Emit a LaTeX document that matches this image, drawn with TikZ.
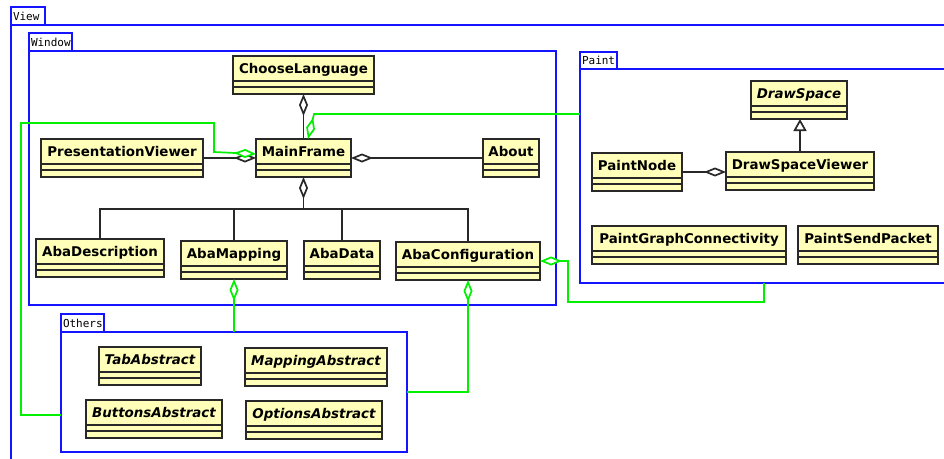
\documentclass[tikz,border=0pt]{standalone}
\usepackage{fontspec}
\setmainfont{DejaVu Sans}
\newfontfamily\pkgfont{DejaVu Sans Mono}
\usetikzlibrary{arrows.meta}
\definecolor{classfill}{RGB}{255,255,185}
\definecolor{classline}{RGB}{40,40,40}
\definecolor{pkgblue}{RGB}{20,20,255}
\definecolor{linkgreen}{RGB}{0,240,0}

\begin{document}
\begin{tikzpicture}[x=1pt,y=-1pt,
  umlclass/.style={draw=classline, fill=classfill, line width=1.8pt, anchor=north west,
    inner xsep=0pt, inner ysep=0pt, outer sep=0pt, minimum height=38pt,
    text height=17pt, text depth=21pt, font=\fontsize{13.4}{16}\selectfont\bfseries},
  abstractclass/.style={umlclass, font=\fontsize{13.4}{16}\selectfont\bfseries\itshape},
  pkg/.style={draw=pkgblue, line width=1.7pt, anchor=north west, inner sep=0pt, outer sep=0pt},
  pkgtab/.style={pkg, anchor=south west, minimum height=18pt, inner xsep=2pt, inner ysep=0pt,
    align=left, font=\pkgfont\fontsize{11}{12}\selectfont},
  agg/.style={draw=classline, line width=1.7pt, -{Diamond[fill=white, length=22pt, width=9pt]}},
  gagg/.style={draw=linkgreen, line width=1.7pt, -{Diamond[fill=white, length=22pt, width=9pt]}},
  assoc/.style={draw=classline, line width=1.7pt},
  inh/.style={draw=classline, line width=1.7pt, -{Triangle[fill=white, length=12pt, width=13pt]}},
]
\useasboundingbox (0,0) rectangle (944,458);
\fill[white] (0,0) rectangle (944,458);

% packages
\node[pkg, minimum width=1000pt, minimum height=500pt] (View) at (11,25) {};
\node[pkgtab, text width=30pt] (ViewTab) at (View.north west) {View};
\node[pkg, minimum width=527pt, minimum height=254pt] (Window) at (29,51) {};
\node[pkgtab, text width=39pt] (WindowTab) at (Window.north west) {Window};
\node[pkg, minimum width=400pt, minimum height=214pt] (Paint) at (580,69) {};
\node[pkgtab, text width=33pt, minimum height=17pt] (PaintTab) at (Paint.north west) {Paint};
\node[pkg, minimum width=346pt, minimum height=120pt] (Others) at (61,332) {};
\node[pkgtab, text width=39pt] (OthersTab) at (Others.north west) {Others};

% Window classes
\node[umlclass, minimum width=141pt] (ChooseLanguage) at (233,56) {ChooseLanguage};
\node[umlclass, minimum width=95pt] (MainFrame) at (256,139) {MainFrame};
\node[umlclass, minimum width=56pt] (About) at (483,139) {About};
\node[umlclass, minimum width=162pt] (PresentationViewer) at (41,139) {PresentationViewer};
\node[umlclass, minimum width=128pt] (AbaDescription) at (36,239) {AbaDescription};
\node[umlclass, minimum width=106pt] (AbaMapping) at (181,241) {AbaMapping};
\node[umlclass, minimum width=76pt] (AbaData) at (304,241) {AbaData};
\node[umlclass, minimum width=144pt] (AbaConfiguration) at (396,242) {AbaConfiguration};

% Paint classes
\node[abstractclass, minimum width=96pt] (DrawSpace) at (751,81) {DrawSpace};
\node[umlclass, minimum width=148pt] (DrawSpaceViewer) at (726,152) {DrawSpaceViewer};
\node[umlclass, minimum width=90pt] (PaintNode) at (592,153) {PaintNode};
\node[umlclass, minimum width=194pt] (PaintGraphConnectivity) at (592,226) {PaintGraphConnectivity};
\node[umlclass, minimum width=140pt] (PaintSendPacket) at (798,226) {PaintSendPacket};

% Others classes
\node[abstractclass, minimum width=102pt] (TabAbstract) at (99,347) {TabAbstract};
\node[abstractclass, minimum width=142pt] (MappingAbstract) at (245,348) {MappingAbstract};
\node[abstractclass, minimum width=136pt] (ButtonsAbstract) at (86,400) {ButtonsAbstract};
\node[abstractclass, minimum width=136pt] (OptionsAbstract) at (246,401) {OptionsAbstract};

% compartment separators
\foreach \c in {ChooseLanguage,MainFrame,About,PresentationViewer,AbaDescription,AbaMapping,
  AbaData,AbaConfiguration,DrawSpace,DrawSpaceViewer,PaintNode,PaintGraphConnectivity,
  PaintSendPacket,TabAbstract,MappingAbstract,ButtonsAbstract,OptionsAbstract}{
  \draw[assoc] ([yshift=-25pt]\c.north west) -- ([yshift=-25pt]\c.north east);
  \draw[assoc] ([yshift=-31pt]\c.north west) -- ([yshift=-31pt]\c.north east);
}

% aggregations inside Window
\draw[agg] (MainFrame.north) -- (ChooseLanguage.south);
\draw[agg] (PresentationViewer.east) -- (MainFrame.west);
\draw[agg] (About.west) -- (MainFrame.east);
\coordinate (bus) at (303.5,209);
\draw[agg] (bus) -- (MainFrame.south);
\draw[assoc] (AbaDescription.north) |- (bus);
\draw[assoc] (AbaMapping.north) |- (bus);
\draw[assoc] (AbaData.north) |- (bus);
\draw[assoc] (AbaConfiguration.north) |- (bus);

% Paint relations
\draw[agg] (PaintNode.east) -- (PaintNode.east -| DrawSpaceViewer.west);
\draw[inh] (DrawSpaceViewer.north) -- (DrawSpaceViewer.north |- DrawSpace.south);

% package-level links
\draw[gagg] (Paint.west |- 0,114) -- (314,114) -- ([xshift=4.5pt]MainFrame.north);
\draw[gagg] ([yshift=-23pt]Others.west) -- (21,415) -- (21,123) -- (214,123) -- (214,152)
  -- ([yshift=4pt]MainFrame.west);
\draw[gagg] (AbaMapping.south |- Others.north) -- (AbaMapping.south);
\draw[gagg] (Others.east) -| (AbaConfiguration.south);
\draw[gagg] (Paint.south -| 764,0) -- (764,302) -- (568,302) |- (AbaConfiguration.east);
\end{tikzpicture}
\end{document}
